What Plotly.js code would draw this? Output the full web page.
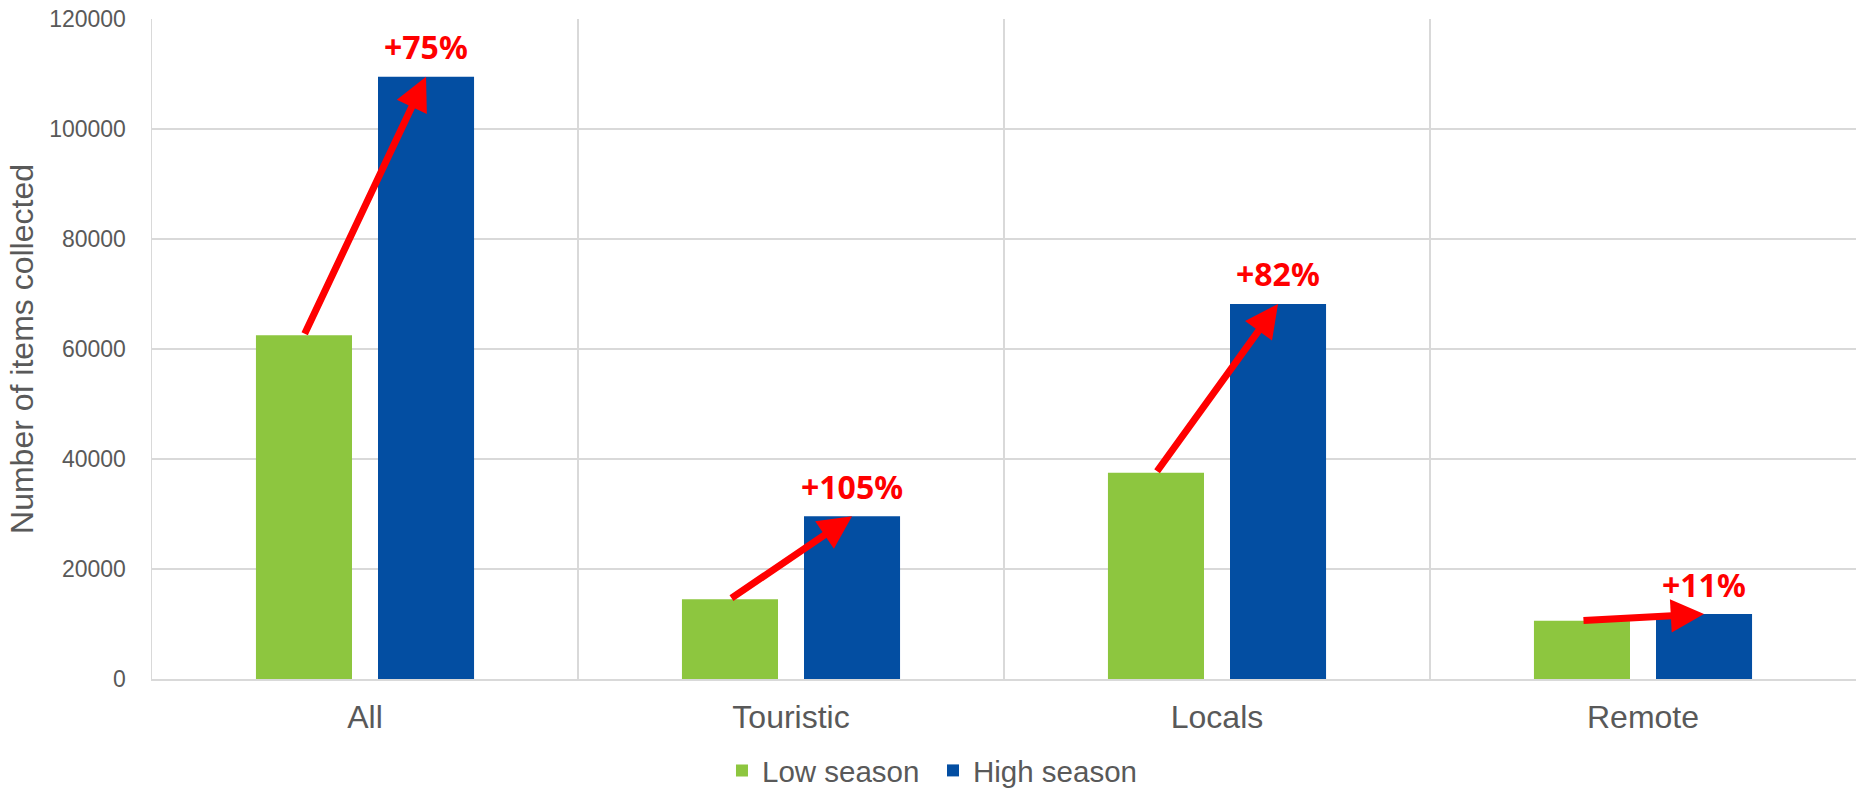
<!DOCTYPE html>
<html>
<head>
<meta charset="utf-8">
<script src="https://cdn.plot.ly/plotly-3.0.1.min.js"></script>
<style>html,body{margin:0;padding:0;background:#fff;}#chart{width:1857px;height:788px;}</style>
</head>
<body>
<div id="chart"></div>
<script>
const categories = ['All', 'Touristic', 'Locals', 'Remote'];
const lowSeason = [62500, 14500, 37500, 10600];
const highSeason = [109500, 29600, 68200, 11800];
const changeLabels = ['+75%', '+105%', '+82%', '+11%'];
const yTickVals = [0, 20000, 40000, 60000, 80000, 100000, 120000];
const seriesNames = ['Low season', 'High season'];

const GREEN = '#8DC63F';
const BLUE = '#034EA2';
const RED = '#FF0000';
const GRAY_TEXT = '#595959';
const GRID = '#D9D9D9';
const bargap = 0.427;
const bargroupgap = 0.213;
const off = (1 - bargap) / 4;

const traces = [
  {type: 'bar', name: seriesNames[0], x: categories, y: lowSeason,
   marker: {color: GREEN, line: {width: 0}}, hoverinfo: 'x+y'},
  {type: 'bar', name: seriesNames[1], x: categories, y: highSeason,
   marker: {color: BLUE, line: {width: 0}}, hoverinfo: 'x+y'}
];

const annotations = [];
categories.forEach((c, i) => {
  annotations.push({
    x: i + off, y: highSeason[i], xref: 'x', yref: 'y',
    ax: i - off, ay: lowSeason[i], axref: 'x', ayref: 'y',
    text: '', showarrow: true, arrowhead: 2, arrowsize: 0.95, arrowwidth: 7,
    arrowcolor: RED, standoff: 0, startstandoff: 0
  });
  annotations.push({
    x: i + off, y: highSeason[i], xref: 'x', yref: 'y',
    text: '<b>' + changeLabels[i] + '</b>', showarrow: false,
    yanchor: 'middle', yshift: 30,
    font: {family: 'Noto Sans, Open Sans, sans-serif', size: 32, color: RED}
  });
});

const layout = {
  width: 1857, height: 788,
  margin: {l: 152, r: 1, t: 19, b: 109, pad: 0, autoexpand: false},
  paper_bgcolor: '#fff', plot_bgcolor: '#fff',
  font: {family: 'Liberation Sans, Arial, sans-serif', color: GRAY_TEXT},
  barmode: 'group', bargap: bargap, bargroupgap: bargroupgap,
  showlegend: true,
  legend: {orientation: 'h', x: 0.3345, xanchor: 'left', y: -0.139, yanchor: 'middle',
           entrywidth: 166, entrywidthmode: 'pixels',
           font: {size: 29.5, color: GRAY_TEXT}, traceorder: 'normal'},
  xaxis: {
    type: 'category', tickson: 'boundaries', showgrid: true, gridcolor: GRID, gridwidth: 1.5,
    showline: true, linecolor: GRID, linewidth: 1.5,
    ticks: '', ticklabelstandoff: 9,
    tickfont: {size: 32, color: GRAY_TEXT}, range: [-0.5, 3.5]
  },
  yaxis: {
    range: [0, 120000], tickvals: yTickVals, ticktext: yTickVals.map(String),
    showgrid: true, gridcolor: GRID, gridwidth: 1.5, zeroline: false,
    showline: true, linecolor: GRID, linewidth: 1.5,
    ticks: 'outside', ticklen: 20, tickcolor: 'rgba(0,0,0,0)',
    tickfont: {size: 23, color: GRAY_TEXT},
    title: {text: 'Number of items collected', font: {size: 32, color: GRAY_TEXT}, standoff: 6}
  },
  annotations: annotations
};

Plotly.newPlot('chart', traces, layout, {displayModeBar: false, staticPlot: true});
</script>
</body>
</html>
